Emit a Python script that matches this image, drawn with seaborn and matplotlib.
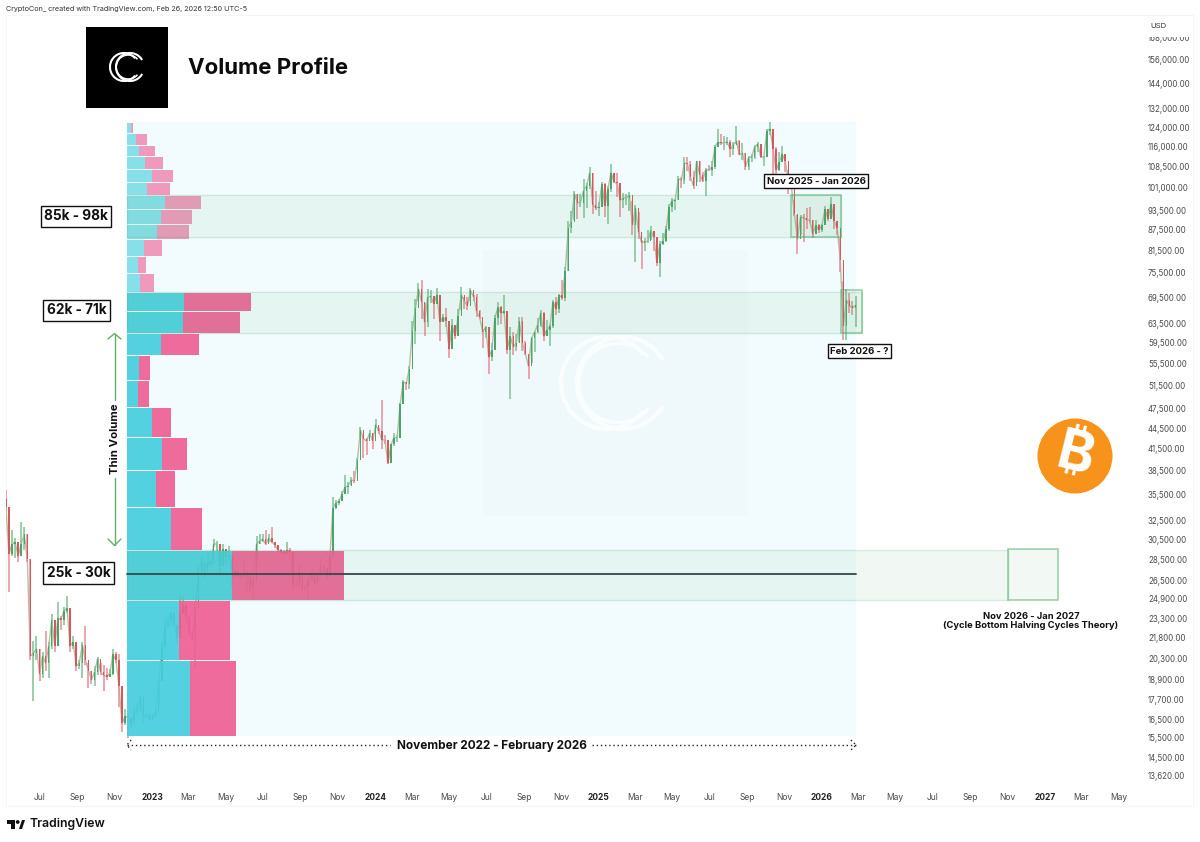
import numpy as np, pandas as pd
import matplotlib
matplotlib.use("Agg")
import matplotlib.pyplot as plt
import matplotlib.dates as mdates
from matplotlib import font_manager as fm
from matplotlib.ft2font import FT2Font
from matplotlib.patches import Rectangle, Arc, Circle, Polygon
from matplotlib.lines import Line2D
from matplotlib.transforms import Affine2D
import seaborn as sns

# ---------- data (USD thousands, one candle per 5 days from 7 May 2022) ----------
first_open = 35.0
close = [34.0,29.0,30.0,30.2,28.8,30.0,31.0,28.5,20.5,20.7,21.0,19.3,20.5,20.0,21.2,23.2,21.2,23.3,23.2,23.9,24.1,21.2,21.5,19.8,20.0,21.3,20.2,19.5,18.9,19.4,20.3,19.4,19.2,19.1,19.3,20.6,20.2,18.5,16.3,16.7,16.6,16.2,17.0,17.2,17.8,16.7,16.8,16.5,
16.7,16.9,18.8,21.1,22.7,23.1,23.7,22.8,21.8,23.6,24.4,23.5,22.3,21.7,24.1,27.4,28.3,27.3,28.2,28.0,30.0,30.0,27.8,29.5,28.7,28.9,26.9,27.4,26.9,26.9,27.0,27.2,25.9,26.4,30.0,30.3,30.5,30.0,30.6,30.2,29.9,29.4,29.2,29.0,29.4,29.2,26.2,26.1,27.3,25.8,25.9,26.5,27.2,26.2,27.0,27.8,27.6,26.9,28.7,33.9,34.5,34.7,35.6,36.4,36.6,37.3,37.2,39.9,44.2,42.9,42.6,43.7,42.6,
45.0,44.0,42.8,42.7,39.5,42.1,43.1,43.1,48.3,52.1,51.8,54.5,62.0,66.9,71.5,68.4,63.8,69.5,69.7,68.0,70.0,63.8,64.9,64.0,58.3,63.2,60.8,65.2,70.1,68.5,67.5,71.1,69.6,66.2,64.9,61.8,62.7,56.6,58.0,64.8,67.1,65.8,66.2,58.1,60.9,58.7,59.5,64.0,59.4,57.3,54.9,60.5,61.7,63.3,65.8,60.8,62.2,62.9,68.4,66.7,69.9,69.4,75.9,88.0,89.8,98.9,95.9,95.9,99.9,101.5,106.1,95.2,94.2,
94.5,102.1,94.7,100.5,106.2,102.7,102.4,96.6,97.4,97.5,98.3,88.7,94.3,86.7,83.7,84.0,84.0,87.2,85.2,78.2,83.4,84.0,87.5,94.6,96.5,96.8,104.0,103.5,109.7,109.5,104.5,101.5,110.3,105.5,103.3,107.3,107.1,108.2,116.0,117.8,117.3,117.6,117.8,115.0,116.5,118.3,112.9,113.5,108.4,111.7,112.1,115.9,117.1,112.0,112.1,122.3,123.3,115.2,107.0,110.0,113.0,110.5,103.3,101.7,92.1,84.7,91.3,91.0,90.4,90.3,86.2,88.7,87.4,
88.7,93.7,90.8,95.5,90.0,88.0,79.0,63.0,68.8,67.5,67.0,67.6]
high = [36.0,34.0,31.5,30.6,30.0,32.3,31.8,31.0,28.5,21.6,21.9,21.0,20.8,22.3,21.5,23.6,23.0,24.6,23.5,24.2,25.1,23.8,21.9,20.5,20.2,21.5,22.7,20.0,19.5,19.8,20.4,20.0,19.9,19.7,19.6,21.0,20.8,20.6,18.0,17.1,16.7,16.6,17.2,17.4,17.9,17.0,16.9,16.9,
16.8,17.0,19.1,21.6,23.3,23.4,23.8,23.2,22.0,25.2,25.1,23.7,23.5,22.2,24.5,27.7,28.8,27.5,29.2,28.3,30.5,30.3,28.0,30.0,28.9,29.8,27.1,27.5,27.2,27.0,28.4,27.4,26.2,26.7,30.8,31.0,31.0,31.5,31.0,31.8,30.2,29.7,29.5,29.4,30.2,29.6,26.4,26.3,28.0,26.2,26.0,26.8,27.5,26.7,27.2,28.6,28.0,27.2,28.9,35.2,34.8,35.0,35.9,37.9,37.0,37.7,38.4,40.2,44.7,43.4,43.0,44.2,43.7,
45.9,44.5,49.0,43.5,41.3,42.2,43.8,43.4,48.5,52.5,52.0,54.9,64.0,69.0,72.9,73.7,68.2,71.5,71.3,69.2,71.7,65.4,65.7,67.0,60.0,64.5,61.4,66.7,71.9,69.5,69.5,71.7,70.0,70.2,66.5,62.3,63.0,60.4,59.4,65.3,68.4,67.5,69.9,65.6,62.7,61.8,61.4,64.9,65.0,59.8,56.0,60.6,61.8,64.7,66.5,66.0,64.4,63.4,68.9,69.5,70.2,73.6,76.9,90.0,93.3,99.8,98.7,98.8,103.9,102.5,108.4,106.0,99.9,
96.0,102.7,102.5,101.5,109.3,106.0,106.0,102.5,99.0,98.8,99.5,96.5,95.0,92.8,84.5,85.0,87.4,88.5,85.6,84.7,84.2,86.4,88.5,95.5,97.4,97.0,105.0,104.7,111.8,111.9,110.5,106.8,110.6,110.4,106.5,108.0,108.8,110.5,116.8,123.2,120.9,120.2,119.8,118.5,117.9,124.5,118.6,117.4,113.5,112.5,113.3,116.8,117.9,116.0,112.4,123.2,126.2,123.0,115.9,114.0,116.4,111.8,107.3,105.5,96.6,92.0,91.9,92.3,94.2,94.5,90.5,90.5,89.3,
89.2,94.8,91.8,97.7,93.5,89.0,85.0,73.5,71.5,70.5,68.5,69.8]
low = [33.5,25.5,28.8,28.6,28.2,29.2,29.4,28.2,20.2,17.6,20.2,18.8,19.0,19.5,19.0,21.0,20.8,22.4,22.4,22.8,23.7,20.8,21.0,19.5,19.6,19.0,19.9,18.4,18.6,18.5,19.2,19.2,18.2,18.9,19.1,19.2,20.0,17.2,15.8,16.2,15.5,16.0,16.2,16.7,16.9,16.3,16.6,16.4,
16.4,16.6,17.3,20.5,22.3,22.5,22.7,22.6,21.4,23.4,24.1,23.0,22.0,21.6,19.6,26.6,27.1,26.7,27.9,27.8,29.7,29.3,27.1,28.5,27.9,28.4,25.8,26.6,26.6,26.6,26.6,25.4,25.6,24.9,28.3,30.0,30.2,29.9,30.2,30.1,29.6,29.0,29.0,28.8,29.2,29.0,25.7,25.8,25.9,25.6,25.6,24.9,26.6,26.1,26.4,27.2,27.3,26.6,28.1,30.9,33.8,34.2,34.9,36.3,35.6,36.7,36.9,38.7,43.0,40.2,40.6,43.3,41.4,
44.5,43.6,41.5,42.1,39.4,41.4,41.9,42.5,47.5,51.6,50.6,50.9,59.0,59.3,68.6,64.5,60.8,62.7,68.2,64.6,68.0,59.8,63.9,62.8,56.5,62.8,60.2,61.2,66.6,66.7,66.6,68.5,68.6,65.0,64.5,58.5,60.4,53.5,56.0,59.5,63.3,63.5,65.6,57.2,49.2,57.0,57.8,59.7,57.9,57.1,52.6,55.6,57.6,61.6,62.7,59.9,60.9,58.9,62.6,65.5,65.9,68.8,68.5,76.0,86.6,90.5,90.8,94.5,91.0,94.2,100.5,92.2,93.5,
91.5,97.5,91.2,89.3,99.5,102.5,97.8,91.2,94.1,95.2,93.3,86.0,78.3,84.6,76.6,81.2,83.7,84.5,81.3,77.2,74.5,83.0,83.9,87.0,92.9,93.4,96.8,100.8,102.0,106.7,103.1,100.4,102.7,102.7,102.7,98.2,106.7,105.1,107.5,115.7,116.8,114.8,116.8,112.0,112.7,117.2,112.6,110.7,107.3,107.3,110.0,111.3,113.9,111.5,108.6,111.9,120.6,104.0,103.6,106.8,111.0,106.3,98.9,100.8,91.5,80.6,85.9,83.8,87.7,89.4,85.1,87.0,86.5,
86.9,90.8,90.0,94.8,87.5,86.0,75.8,60.0,60.0,65.8,65.5,62.8]

profile_edges = [15.6,20.2,24.8,29.4,34.0,38.6,43.2,47.8,52.4,57.0,61.6,66.2,70.8,75.4,80.0,84.6,89.2,93.8,98.4,103.0,107.6,112.2,116.8,121.4,126.0]
buy_volume = [63,52,105,44,29,35,25,11,12.5,34.5,56.5,57,13,11,17,30,34,38,20,25,18,12,9,4.5]
sell_volume = [46.5,51,112.5,31,19,25,19,11,10.5,37.5,56.5,67,14,8,18,32,31,36,23,21,18,16,11,1.5]
value_area_rows = 12

price_ticks = [168000,156000,144000,132000,124000,116000,108500,101000,93500,87500,81500,75500,69500,63500,59500,55500,51500,47500,44500,41500,38500,35500,32500,30500,28500,26500,24900,23300,21800,20300,18900,17700,16500,15500,14500,13620]
month_ticks = ["2022-07-01","2022-09-01","2022-11-01","2023-01-01","2023-03-01","2023-05-01","2023-07-01","2023-09-01","2023-11-01","2024-01-01","2024-03-01","2024-05-01","2024-07-01","2024-09-01","2024-11-01","2025-01-01","2025-03-01","2025-05-01","2025-07-01","2025-09-01","2025-11-01","2026-01-01","2026-03-01","2026-05-01","2026-07-01","2026-09-01","2026-11-01","2027-01-01","2027-03-01","2027-05-01"]
month_labels = ["Jul","Sep","Nov","2023","Mar","May","Jul","Sep","Nov","2024","Mar","May","Jul","Sep","Nov","2025","Mar","May","Jul","Sep","Nov","2026","Mar","May","Jul","Sep","Nov","2027","Mar","May"]

zones = [("2022-11-21","2026-02-01",85.3,98.4),("2022-11-21","2026-03-08",61.6,70.8),("2022-11-21","2026-11-01",24.8,29.4)]
boxes = [("2025-11-11","2026-02-01",85.3,98.4),("2026-02-02","2026-03-08",61.6,71.3),("2026-11-01","2027-01-22",24.8,29.5)]
profile_start, profile_end, poc_price = "2022-11-21", "2026-02-25", 27.1
box_top, box_bottom = 126.0, 15.6

# ---------- theme ----------
sns.set_theme(style="white")
plt.rcParams['font.family'] = ['Inter', 'DejaVu Sans']
PX_PER_DAY = 893 / 1461
D0 = mdates.date2num(pd.Timestamp("2023-01-01"))
dn = lambda s: mdates.date2num(pd.Timestamp(s))
PX_PER_LOG, P0, Y0 = 293.8, 15500.0, 738.0
price_at = lambda y: P0 * np.exp((Y0 - y) / PX_PER_LOG)

fig = plt.figure(figsize=(12, 8.42), dpi=100, facecolor="white")
ax = fig.add_axes([6/1200, (842-787)/842, 1135/1200, 771/842])
ax.set_yscale("log")
px = Affine2D().scale(1, -1).translate(0, 842)

# ---------- background and watermark ----------
ax.add_patch(Rectangle((dn(profile_start), box_bottom*1000), dn(profile_end)-dn(profile_start), (box_top-box_bottom)*1000,
                       fc="#f2fbfd", ec="none", zorder=1))
ax.add_artist(Rectangle((483, 250), 265, 266, transform=px, fc="#eaf3f4", ec="none", alpha=.3, zorder=1.2, clip_on=False))
def cc(x, y, r, dx, color, lw, z, alpha=1):
    for cx, a, rr in [(x-dx, 38, r), (x+dx, 30, r)]:
        ax.add_artist(Arc((cx, y), 2*rr, 2*rr, theta1=a, theta2=360-a, transform=px, ec=color, lw=lw, zorder=z, clip_on=False, alpha=alpha))
    ax.add_artist(Arc((x+dx*.4, y), 2*r*.86, 2*r*.86, theta1=40, theta2=320, transform=px, ec=color, lw=lw*.8, zorder=z, clip_on=False, alpha=alpha))
cc(615, 383, 46, 8, "#f9fdfd", 3.2, 1.3)

# ---------- candles ----------
dates = pd.date_range("2022-05-07", periods=len(close), freq="5D")
opens = np.array([first_open] + close[:-1]) * 1000
c, h, l = np.array(close)*1000, np.array(high)*1000, np.array(low)*1000
df = pd.DataFrame({"date": dates, "close": c})
sns.lineplot(data=df, x="date", y="close", ax=ax, color="#8a9a62", lw=1.0, alpha=.6, zorder=2, legend=False)
x = mdates.date2num(dates)
up = c >= opens
UP, DOWN = "#4ea36c", "#d6575c"
ax.vlines(x[up], l[up], h[up], color="#7fc294", lw=1.1, zorder=2.2)
ax.vlines(x[~up], l[~up], h[~up], color="#e88d98", lw=1.1, zorder=2.2)
ax.bar(x[up], (c-opens)[up], bottom=opens[up], width=2.4, color=UP, zorder=2.4, lw=0)
ax.bar(x[~up], (opens-c)[~up], bottom=c[~up], width=2.4, color=DOWN, zorder=2.4, lw=0)

# ---------- volume profile ----------
lo = np.array(profile_edges[:-1])*1000
hi = np.array(profile_edges[1:])*1000*0.9965
buy = np.array(buy_volume)/PX_PER_DAY
sell = np.array(sell_volume)/PX_PER_DAY
alphas = np.where(np.arange(len(buy)) < value_area_rows, .92, .62)
left = dn(profile_start)
for i in range(len(buy)):
    ax.barh(lo[i], buy[i], height=hi[i]-lo[i], left=left, align="edge", color="#45cede", alpha=alphas[i], lw=0, zorder=4)
    ax.barh(lo[i], sell[i], height=hi[i]-lo[i], left=left+buy[i], align="edge", color="#ee5f94", alpha=alphas[i], lw=0, zorder=4)

# ---------- zones ----------
for a, b, p0, p1 in zones:
    ax.add_patch(Rectangle((dn(a), p0*1000), dn(b)-dn(a), (p1-p0)*1000, fc=(.3,.68,.42,.075), ec=(.3,.68,.42,.2), lw=1, zorder=5))
for a, b, p0, p1 in boxes:
    ax.add_patch(Rectangle((dn(a), p0*1000), dn(b)-dn(a), (p1-p0)*1000, fc=(.3,.68,.42,.07), ec=(.3,.68,.42,.55), lw=1.2, zorder=5.1))
ax.plot([dn(profile_start), dn(profile_end)], [poc_price*1000]*2, color="#37474a", lw=1.3, zorder=6)

# ---------- axes ----------
ax.set_xlim(D0 + (6-152)/PX_PER_DAY, D0 + (1141-152)/PX_PER_DAY)
ax.set_ylim(price_at(787), price_at(16))
ax.yaxis.tick_right()
ax.set_yticks(price_ticks)
ax.set_yticklabels([f"{v:,.2f}" for v in price_ticks], fontsize=5.7, color="#4a4a4a", ha="left")
ax.yaxis.set_minor_locator(matplotlib.ticker.NullLocator())
ax.set_xticks([dn(s) for s in month_ticks])
ax.set_xticklabels(month_labels, fontsize=6.1, color="#4a4a4a")
for t in ax.get_xticklabels():
    if t.get_text().isdigit():
        t.set_fontweight("bold"); t.set_color("#222222")
ax.tick_params(axis="both", length=0, pad=5)
ax.tick_params(axis="x", pad=4.5)
ax.set_xlabel(""); ax.set_ylabel(""); ax.grid(False)
for s in ax.spines.values():
    s.set_visible(False)

# ---------- decorations ----------
ax.add_artist(Rectangle((6, 15), 1187, 791, transform=px, fc="none", ec="#f6f6f6", lw=.8, clip_on=False, zorder=0.5))
T = dict(transform=px, clip_on=False, zorder=9)
ax.text(6, 9, "CryptoCon_ created with TradingView.com, Feb 26, 2026 12:50 UTC-5", fontsize=5.2, color="#333333", va="center", **T)
ax.add_artist(Rectangle((1145, 19), 47, 18, transform=px, fc="white", ec="none", zorder=8, clip_on=False))
ax.text(1150, 26, "USD", fontsize=5.6, color="#333333", va="center", **T)
ax.add_artist(Rectangle((86, 27), 82, 81, transform=px, fc="black", ec="none", zorder=8, clip_on=False))
cc(127, 67, 14, 3, "white", 1.5, 9)
ax.text(188, 67.5, "Volume Profile", fontsize=16, fontweight="bold", color="#0c0c0c", va="center", **T)

box = lambda pad=2.6: dict(boxstyle=f"square,pad={pad/10}", fc="white", ec="#111111", lw=1)
for cx, cy, s in [(76, 216.5, "85k - 98k"), (76.5, 310.5, "62k - 71k"), (78.5, 573, "25k - 30k")]:
    ax.text(cx, cy, s, fontsize=9.8, fontweight="bold", color="#111111", ha="center", va="center", bbox=box(), **T)
for cx, cy, s in [(816, 181, "Nov 2025 - Jan 2026"), (859.5, 351, "Feb 2026 - ?")]:
    ax.text(cx, cy, s, fontsize=6.9, fontweight="bold", color="#111111", ha="center", va="center", bbox=box(2.2), **T)
ax.text(1031, 621, "Nov 2026 - Jan 2027\n(Cycle Bottom Halving Cycles Theory)", fontsize=6.75, fontweight="bold", color="#111111",
        ha="center", va="center", linespacing=.95, **T)
ax.text(491.5, 746.5, "November 2022 - February 2026", fontsize=8.5, fontweight="bold", color="#111111", ha="center", va="center", **T)
ax.text(114.5, 439, "Thin Volume", fontsize=8.2, fontweight="bold", rotation=90, color="#111111", ha="center", va="center", **T)

GREEN = "#62b06a"
def seg(xs, ys, color=GREEN, lw=1, ls="-", z=8):
    ax.add_artist(Line2D(xs, ys, transform=px, color=color, lw=lw, ls=ls, zorder=z, clip_on=False))
seg([114.5, 114.5], [334, 400]); seg([114.5, 114.5], [478, 545])
seg([108, 114.5, 121], [339, 333.5, 339]); seg([108, 114.5, 121], [539, 545.5, 539])
DOT = (0, (1, 2))
seg([127, 390], [745, 745], "#222222", 1, DOT); seg([592, 856], [745, 745], "#222222", 1, DOT)
seg([131, 127, 131], [740, 745, 750], "#222222", 1, DOT); seg([851, 856, 851], [740, 745, 750], "#222222", 1, DOT)

# Bitcoin badge: use a family that really holds the sign, else draw it as a shape
ax.add_artist(Circle((1075, 456), 37.5, transform=px, fc="#f7931a", ec="none", zorder=8, clip_on=False))
sign_font = None
for fam in ["Inter", "Noto Sans", "Roboto", "Open Sans", "Lato", "Liberation Sans", "DejaVu Sans"]:
    prop = fm.FontProperties(family=fam, weight="bold")
    try:
        path = fm.findfont(prop, fallback_to_default=False)
    except Exception:
        continue
    if FT2Font(path).get_char_index(0x20BF):
        sign_font = prop
        break
if sign_font is not None:
    ax.text(1075, 456, "\u20bf", fontproperties=sign_font, fontsize=40, color="white", rotation=-14, ha="center", va="center", **T)
else:
    ax.text(1075, 456, "B", fontsize=40, fontweight="bold", color="white", rotation=-14, ha="center", va="center", **T)
    th = np.deg2rad(14)
    for dx in (-4, 4):
        for y0, y1 in ((-30, -20), (20, 30)):
            seg([1075+dx-y0*np.sin(th)*-1, 1075+dx-y1*np.sin(th)*-1], [456+y0*np.cos(th), 456+y1*np.cos(th)], "white", 3, "-", 9)

# TradingView mark
for pts in [[(7,820),(15,820),(15,829),(11,829),(11,824),(7,824)], [(19,829),(22,820),(25,820),(22,829)]]:
    ax.add_artist(Polygon(pts, transform=px, fc="#111111", ec="none", zorder=9, clip_on=False))
ax.add_artist(Circle((17.7, 822), 1.9, transform=px, fc="#111111", ec="none", zorder=9, clip_on=False))
ax.text(29, 824, "TradingView", fontsize=8.8, fontweight="semibold", color="#111111", va="center", **T)

fig.savefig("out.png", dpi=100, facecolor="white")
